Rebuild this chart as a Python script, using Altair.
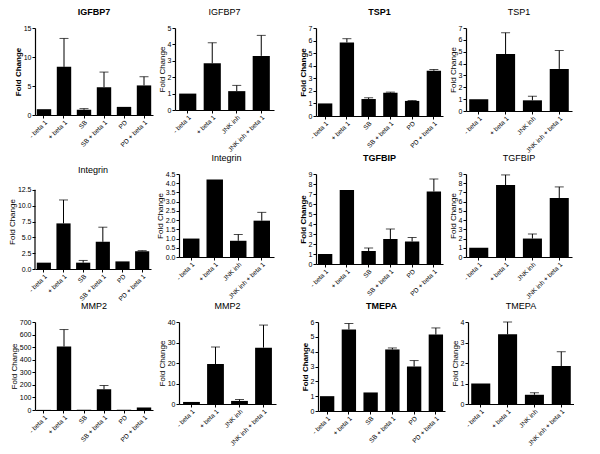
import altair as alt
import pandas as pd

# ---------------- data ----------------
six_labels = ["- beta 1", "+ beta 1", "SB", "SB + beta 1", "PD", "PD + beta 1"]
four_labels = ["- beta 1", "+ beta 1", "JNK inh", "JNK inh + beta 1"]

igfbp7_six = [1.0, 8.3, 0.9, 4.8, 1.4, 5.1]
igfbp7_six_top = [None, 13.2, 1.1, 7.4, None, 6.6]
igfbp7_four = [1.0, 2.85, 1.15, 3.3]
igfbp7_four_top = [None, 4.1, 1.5, 4.55]

tsp1_six = [1.0, 5.85, 1.35, 1.85, 1.2, 3.6]
tsp1_six_top = [None, 6.15, 1.45, 1.9, 1.23, 3.7]
tsp1_four = [1.0, 4.8, 0.9, 3.55]
tsp1_four_top = [None, 6.6, 1.25, 5.1]

integrin_six = [1.0, 7.2, 1.0, 4.3, 1.2, 2.8]
integrin_six_top = [None, 10.9, 1.35, 6.6, None, 2.9]
integrin_four = [1.0, 4.2, 0.88, 1.97]
integrin_four_top = [None, None, 1.22, 2.42]

tgfbip_six = [1.0, 7.4, 1.3, 2.5, 2.25, 7.25]
tgfbip_six_top = [None, None, 1.6, 3.5, 2.65, 8.5]
tgfbip_four = [1.0, 7.8, 2.0, 6.4]
tgfbip_four_top = [None, 8.9, 2.5, 7.6]

mmp2_six = [1.0, 505, 2.0, 165, 2.0, 20]
mmp2_six_top = [None, 640, None, 195, None, None]
mmp2_four = [1.0, 19.5, 1.5, 27.5]
mmp2_four_top = [None, 27.8, 2.2, 38.5]

tmepa_six = [1.0, 5.5, 1.25, 4.15, 3.0, 5.15]
tmepa_six_top = [None, 5.9, None, 4.25, 3.4, 5.6]
tmepa_four = [1.0, 3.4, 0.45, 1.85]
tmepa_four_top = [None, 4.0, 0.55, 2.55]

# y-axis tick labels per panel
ticks_igfbp7_six = [0, 5, 10, 15]
ticks_igfbp7_four = [0, 1, 2, 3, 4, 5]
ticks_tsp1 = [0, 1, 2, 3, 4, 5, 6, 7]
ticks_integrin_six = [0.0, 2.5, 5.0, 7.5, 10.0, 12.5]
ticks_integrin_four = [0.0, 0.5, 1.0, 1.5, 2.0, 2.5, 3.0, 3.5, 4.0, 4.5]
ticks_tgfbip = [0, 1, 2, 3, 4, 5, 6, 7, 8, 9]
ticks_mmp2_six = [0, 100, 200, 300, 400, 500, 600, 700]
ticks_mmp2_four = [0, 10, 20, 30, 40]
ticks_tmepa_six = [0, 1, 2, 3, 4, 5, 6]
ticks_tmepa_four = [0, 1, 2, 3, 4]

FONT = "Liberation Sans"


def panel(title, cats, vals, tops, ticks, fmt, w, h, bold, title_off, pi, po, dom_max=None):
    df = pd.DataFrame({
        "cond": cats,
        "val": vals,
        "top": [t if t is not None else v for t, v in zip(tops, vals)],
    })
    extended = dom_max is not None
    top_dom = dom_max if extended else ticks[-1]
    xscale = alt.Scale(paddingInner=pi, paddingOuter=po)
    xaxis = alt.Axis(labelAngle=-45, labelAlign="right", labelBaseline="top",
                     labelFontSize=6.5, labelPadding=1, tickSize=3, labelOverlap=False)
    yscale = alt.Scale(domain=[ticks[0], top_dom], nice=False, zero=True)
    yaxis = alt.Axis(values=ticks, format=fmt, labelFontSize=7, tickSize=3,
                     labelPadding=1, titleFontSize=8, titlePadding=1,
                     labelOverlap=False, domain=not extended,
                     titleFontWeight="bold" if bold else "normal")
    x = alt.X("cond:N", sort=cats, title=None, scale=xscale, axis=xaxis)
    bars = alt.Chart(df).mark_bar(color="black").encode(
        x=x, y=alt.Y("val:Q", title="Fold Change", scale=yscale, axis=yaxis))
    err = alt.Chart(df).transform_filter("datum.top > datum.val").mark_rule(
        color="black", strokeWidth=1).encode(
        x=x, y=alt.Y("val:Q", title="Fold Change", scale=yscale, axis=yaxis), y2="top:Q")
    cap = alt.Chart(df).transform_filter("datum.top > datum.val").mark_tick(
        color="black", thickness=1, size=9).encode(
        x=x, y=alt.Y("top:Q", title="Fold Change", scale=yscale, axis=yaxis))
    layers = [bars, err, cap]
    if extended:
        axis_df = pd.DataFrame({"lo": [ticks[0]], "hi": [ticks[-1]]})
        axis_line = alt.Chart(axis_df).mark_rule(color="black", strokeWidth=1.2).encode(
            x=alt.value(0),
            y=alt.Y("lo:Q", title="Fold Change", scale=yscale, axis=yaxis),
            y2="hi:Q")
        layers.append(axis_line)
    return alt.layer(*layers).properties(
        width=w, height=h,
        title=alt.TitleParams(title, fontSize=9, fontWeight="bold" if bold else "normal",
                              offset=title_off, font=FONT),
    )


p1 = panel("IGFBP7", six_labels, igfbp7_six, igfbp7_six_top, ticks_igfbp7_six, "d", 118, 87, True, 7, 0.28, 0.09)
p2 = panel("IGFBP7", four_labels, igfbp7_four, igfbp7_four_top, ticks_igfbp7_four, "d", 99, 82, False, 7, 0.3, 0.17)
p3 = panel("TSP1", six_labels, tsp1_six, tsp1_six_top, ticks_tsp1, "d", 127, 88, True, 7, 0.34, 0.09)
p4 = panel("TSP1", four_labels, tsp1_four, tsp1_four_top, ticks_tsp1, "d", 106, 83, False, 7, 0.29, 0.12)

p5 = panel("Integrin", six_labels, integrin_six, integrin_six_top, ticks_integrin_six, ".1f", 116, 95, False, -1, 0.28, 0.09, dom_max=15.0)
p6 = panel("Integrin", four_labels, integrin_four, integrin_four_top, ticks_integrin_four, ".1f", 95, 83, False, 7, 0.3, 0.17)
p7 = panel("TGFBIP", six_labels, tgfbip_six, tgfbip_six_top, ticks_tgfbip, "d", 127, 90, True, 7, 0.34, 0.09)
p8 = panel("TGFBIP", four_labels, tgfbip_four, tgfbip_four_top, ticks_tgfbip, "d", 106, 83, False, 7, 0.29, 0.12)

p9 = panel("MMP2", six_labels, mmp2_six, mmp2_six_top, ticks_mmp2_six, "d", 118, 88, False, 7, 0.28, 0.09)
p10 = panel("MMP2", four_labels, mmp2_four, mmp2_four_top, ticks_mmp2_four, "d", 97, 82, False, 7, 0.3, 0.17)
p11 = panel("TMEPA", six_labels, tmepa_six, tmepa_six_top, ticks_tmepa_six, "d", 127, 89, True, 7, 0.34, 0.09)
p12 = panel("TMEPA", four_labels, tmepa_four, tmepa_four_top, ticks_tmepa_four, "d", 106, 82, False, 7, 0.29, 0.12)


def row(a, b, c, d):
    left = alt.hconcat(a, b, spacing=5)
    right = alt.hconcat(c, d, spacing=6)
    return alt.hconcat(left, right, spacing=25)


chart = alt.vconcat(
    row(p1, p2, p3, p4),
    row(p5, p6, p7, p8),
    row(p9, p10, p11, p12),
    spacing=0,
).configure_view(stroke=None).configure_axis(
    domainColor="black", domainWidth=1.2, tickColor="black", tickWidth=1,
    labelColor="black", titleColor="black", grid=False,
    labelFont=FONT, titleFont=FONT,
).configure_title(color="black", font=FONT, anchor="middle").properties(
    background="white", padding=0)

chart.save("out.html", embed_options={"renderer": "svg", "actions": False})
